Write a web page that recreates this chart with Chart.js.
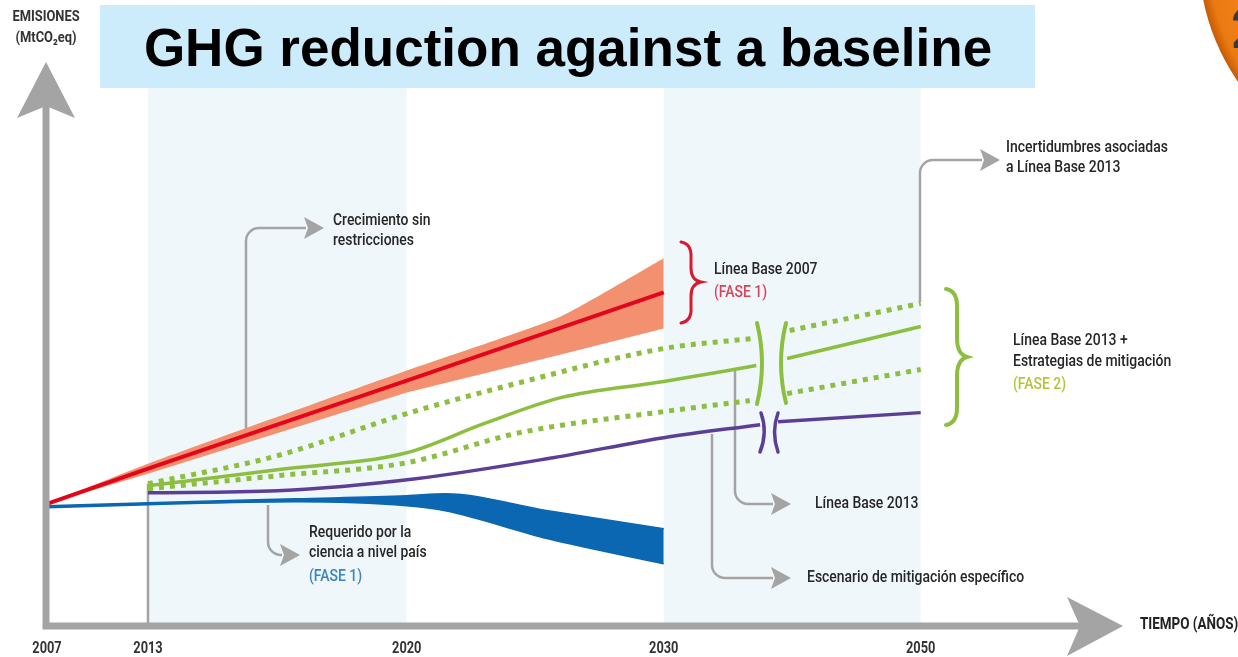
<!DOCTYPE html>
<html><head><meta charset="utf-8">
<script src="https://cdn.jsdelivr.net/npm/chart.js@4.4.1/dist/chart.umd.min.js"></script>
<style>html,body{margin:0;padding:0;background:#fff;overflow:hidden}canvas{display:block}</style>
</head><body>
<canvas id="c" width="1238" height="657"></canvas>
<script>
// ---- schematic time axis (non-uniform spacing, as in the original figure) ----
const tickYears  = [2007, 2013, 2020, 2030, 2050];
const tickLabels = ['2007', '2013', '2020', '2030', '2050'];
const tickSlots  = [0, 0.393, 1.4, 2.4, 3.4];

// ---- Línea Base 2007 (red) ----
const redYears   = [2007, 2013, 2020, 2030];
const redCenter  = [24.4, 31.4, 49.0, 66.6];
const redBandYears = [2007, 2013, 2020, 2026, 2030];
const redUpper   = [24.4, 32.4, 51.0, 61.8, 73.4];
const redLower   = [24.4, 30.4, 46.6, 54.2, 59.4];

// ---- Requerido por la ciencia (blue band) ----
const blueYears  = [2007, 2013, 2017, 2020, 2021.5, 2025.5, 2030];
const blueTop    = [24.0, 24.6, 25.4, 26.0, 26.4, 23.0, 19.4];
const blueBottom = [23.6, 24.2, 24.8, 24.0, 23.0, 17.4, 12.4];

// ---- Línea Base 2013 + estrategias (green) ----
const greenYears  = [2013, 2016.5, 2020, 2023, 2026, 2030, 2037.2, 2038.4, 2039.6, 2044.5, 2050];
const greenSolid  = [28.0, 31.2, 34.6, 40.4, 45.6, 48.8, 52.0, null, 53.4, 56.4, 59.8];
const upperYears  = [2013, 2016.5, 2020, 2024.4, 2030, 2036.9, 2038.3, 2039.8, 2050];
const greenUpper  = [28.4, 34.0, 42.4, 48.6, 55.4, 57.4, null, 59.0, 64.4];
const lowerYears  = [2013, 2016.5, 2020, 2024.4, 2030, 2036.7, 2038.2, 2039.6, 2050];
const greenLower  = [27.4, 30.0, 32.6, 38.6, 42.8, 45.0, null, 46.4, 51.2];

// ---- Escenario de mitigación específico (purple) ----
const purpleYears = [2013, 2016.5, 2020.35, 2025.7, 2030, 2037.5, 2038.2, 2038.9, 2050];
const purpleVals  = [26.6, 27.0, 29.4, 33.6, 37.6, 40.2, null, 40.8, 42.6];

function slot(year) {
  for (let i = 0; i < tickYears.length - 1; i++) {
    if (year <= tickYears[i + 1] || i === tickYears.length - 2) {
      const t = (year - tickYears[i]) / (tickYears[i + 1] - tickYears[i]);
      return tickSlots[i] + t * (tickSlots[i + 1] - tickSlots[i]);
    }
  }
}
const pts = (years, vals) => years.map((y, i) => ({ x: slot(y), y: vals[i] }));

const RED = '#e3061b', SALMON = '#f2906f', BLUE = '#0b67b2', GREEN = '#8cbf40', PURPLE = '#5b3f96', GRAY = '#a4a4a4';
const FONT = 'Roboto, "DejaVu Sans", sans-serif';

function txt(ctx, s, x, y, o = {}) {
  ctx.save();
  ctx.font = (o.bold ? 'bold ' : '500 ') + (o.size || 17) + 'px ' + FONT;
  ctx.fillStyle = o.color || '#262626';
  ctx.textBaseline = 'middle';
  ctx.textAlign = o.align || 'left';
  ctx.translate(x, y);
  ctx.scale(o.sx || 0.82, 1);
  ctx.fillText(s, 0, 0);
  ctx.restore();
}
function head(ctx, tx, ty, len, hw) {
  ctx.beginPath();
  ctx.moveTo(tx, ty); ctx.lineTo(tx - len, ty - hw); ctx.lineTo(tx - len * 0.8, ty); ctx.lineTo(tx - len, ty + hw);
  ctx.closePath(); ctx.fill();
}
function callout(ctx, x0, y0, xc, yc, x1, y1) {
  ctx.beginPath();
  ctx.moveTo(x0, y0);
  ctx.arcTo(xc, yc, x1, y1, 13);
  ctx.lineTo(x1, y1);
  ctx.stroke();
  head(ctx, x1 + 18, y1, 20, 11);
}

const deco = {
  id: 'deco',
  beforeDraw(chart) {
    const ctx = chart.ctx, xs = chart.scales.x, ys = chart.scales.y;
    const X = yr => xs.getPixelForValue(slot(yr));
    ctx.save();
    ctx.fillStyle = '#fff'; ctx.fillRect(0, 0, chart.width, chart.height);
    // shaded periods
    ctx.fillStyle = '#f0f7fb';
    ctx.fillRect(X(2013), 88, X(2020) - X(2013), ys.bottom - 88);
    ctx.fillRect(X(2030), 88, X(2050) - X(2030), ys.bottom - 88);
    // title box
    ctx.fillStyle = '#ccecfb';
    ctx.fillRect(100, 5, 935, 83);
    ctx.fillStyle = '#000';
    ctx.font = 'bold 53px "Liberation Sans", Arial, sans-serif';
    ctx.textAlign = 'center'; ctx.textBaseline = 'alphabetic';
    ctx.fillText('GHG reduction against a baseline', 568, 66);
    // orange badge (cropped)
    const g = ctx.createRadialGradient(1418, -43, 150, 1418, -43, 219);
    g.addColorStop(0, '#f28a1c'); g.addColorStop(0.85, '#ec7a12'); g.addColorStop(1, '#c65a06');
    ctx.fillStyle = g;
    ctx.beginPath(); ctx.arc(1418, -43, 219, 0, Math.PI * 2); ctx.fill();
    ctx.fillStyle = '#3a3a3a';
    ctx.font = 'bold 56px ' + FONT; ctx.textAlign = 'left';
    ctx.fillText('2', 1231, 48);
    ctx.restore();
  },
  beforeDatasetsDraw(chart) {
    const ctx = chart.ctx, xs = chart.scales.x, ys = chart.scales.y;
    const X = yr => xs.getPixelForValue(slot(yr));
    ctx.save();
    ctx.strokeStyle = GRAY; ctx.fillStyle = GRAY; ctx.lineWidth = 2.5;
    // 2013 start line
    ctx.beginPath(); ctx.moveTo(X(2013), ys.getPixelForValue(28.4)); ctx.lineTo(X(2013), ys.bottom); ctx.stroke();
    // callouts
    callout(ctx, 246, 432, 246, 228, 306, 228);
    callout(ctx, 268, 505, 268, 555, 282, 555);
    callout(ctx, 920, 302, 920, 160, 982, 160);
    callout(ctx, 735, 368, 735, 504, 773, 504);
    callout(ctx, 712, 434, 712, 578, 773, 578);
    ctx.restore();
  },
  afterDatasetsDraw(chart) {
    const ctx = chart.ctx, xs = chart.scales.x;
    const X = yr => xs.getPixelForValue(slot(yr));
    ctx.save();
    // axes
    ctx.strokeStyle = GRAY; ctx.fillStyle = GRAY; ctx.lineWidth = 7;
    ctx.beginPath(); ctx.moveTo(46, 100); ctx.lineTo(46, 626); ctx.lineTo(1082, 626); ctx.stroke();
    ctx.beginPath(); ctx.moveTo(46, 62); ctx.lineTo(17, 118); ctx.lineTo(46, 106); ctx.lineTo(75, 118); ctx.closePath(); ctx.fill();
    ctx.beginPath(); ctx.moveTo(1123, 626); ctx.lineTo(1067, 597); ctx.lineTo(1080, 626); ctx.lineTo(1067, 656); ctx.closePath(); ctx.fill();
    // red brace
    ctx.lineCap = 'round';
    ctx.strokeStyle = '#d81a2e'; ctx.lineWidth = 3;
    ctx.beginPath();
    ctx.moveTo(681, 242); ctx.quadraticCurveTo(692, 244, 691, 258);
    ctx.lineTo(691, 268); ctx.quadraticCurveTo(691, 280, 701, 282);
    ctx.quadraticCurveTo(691, 284, 691, 296); ctx.lineTo(691, 307);
    ctx.quadraticCurveTo(692, 321, 681, 323); ctx.stroke();
    // green brace
    ctx.strokeStyle = GREEN; ctx.lineWidth = 4;
    ctx.beginPath();
    ctx.moveTo(946, 289); ctx.quadraticCurveTo(957, 291, 957, 306);
    ctx.lineTo(957, 338); ctx.quadraticCurveTo(957, 354, 967, 357);
    ctx.quadraticCurveTo(957, 360, 957, 376); ctx.lineTo(957, 408);
    ctx.quadraticCurveTo(957, 423, 946, 425); ctx.stroke();
    // axis breaks
    ctx.lineWidth = 4;
    ctx.beginPath(); ctx.moveTo(757, 323); ctx.quadraticCurveTo(767, 363, 757, 404); ctx.stroke();
    ctx.beginPath(); ctx.moveTo(786, 323); ctx.quadraticCurveTo(776, 363, 786, 403); ctx.stroke();
    ctx.strokeStyle = PURPLE; ctx.lineWidth = 3.5;
    ctx.beginPath(); ctx.moveTo(761, 413); ctx.quadraticCurveTo(768, 432, 760, 452); ctx.stroke();
    ctx.beginPath(); ctx.moveTo(778, 413); ctx.quadraticCurveTo(771, 432, 778, 452); ctx.stroke();
    // tick labels
    tickYears.forEach((yr, i) => txt(ctx, tickLabels[i], X(yr), 649, { bold: true, size: 16, align: 'center', sx: 0.8, color: '#333' }));
    // axis titles
    txt(ctx, 'TIEMPO (AÑOS)', 1140, 625, { bold: true, size: 16, sx: 0.84, color: '#222' });
    txt(ctx, 'EMISIONES', 46, 17, { bold: true, size: 15, align: 'center', sx: 0.86, color: '#333' });
    txt(ctx, '(MtCO₂eq)', 46, 38, { bold: true, size: 15, align: 'center', sx: 0.86, color: '#333' });
    // annotations
    txt(ctx, 'Crecimiento sin', 333, 221);
    txt(ctx, 'restricciones', 333, 241);
    txt(ctx, 'Línea Base 2007', 714, 270);
    txt(ctx, '(FASE 1)', 714, 293, { color: '#d9435a' });
    txt(ctx, 'Incertidumbres asociadas', 1006, 148);
    txt(ctx, 'a Línea Base 2013', 1006, 168);
    txt(ctx, 'Línea Base 2013 +', 1013, 341);
    txt(ctx, 'Estrategias de mitigación', 1013, 362);
    txt(ctx, '(FASE 2)', 1013, 385, { color: '#b5c23e' });
    txt(ctx, 'Línea Base 2013', 815, 504);
    txt(ctx, 'Escenario de mitigación específico', 807, 578);
    txt(ctx, 'Requerido por la', 309, 533);
    txt(ctx, 'ciencia a nivel país', 309, 553);
    txt(ctx, '(FASE 1)', 309, 577, { color: '#3a84c4' });
    ctx.restore();
  }
};

const line = (label, data, color, width, extra) => Object.assign({
  label, data, borderColor: color, borderWidth: width, pointRadius: 0, fill: false,
  cubicInterpolationMode: 'monotone', spanGaps: false, order: 1
}, extra || {});

new Chart(document.getElementById('c'), {
  type: 'line',
  data: {
    datasets: [
      line('Línea Base 2007 (máx)', pts(redBandYears, redUpper), SALMON, 0, { fill: '+1', backgroundColor: SALMON, tension: 0.15, cubicInterpolationMode: 'default', order: 6 }),
      line('Línea Base 2007 (mín)', pts(redBandYears, redLower), SALMON, 0, { tension: 0, cubicInterpolationMode: 'default', order: 6 }),
      line('Línea Base 2007', pts(redYears, redCenter), RED, 4, { tension: 0, cubicInterpolationMode: 'default', order: 1 }),
      line('Requerido por la ciencia (sup)', pts(blueYears, blueTop), BLUE, 1.5, { fill: '+1', backgroundColor: BLUE, order: 5 }),
      line('Requerido por la ciencia (inf)', pts(blueYears, blueBottom), BLUE, 1.5, { order: 5 }),
      line('Incertidumbre superior', pts(upperYears, greenUpper), GREEN, 5, { borderDash: [5, 6], order: 3 }),
      line('Línea Base 2013', pts(greenYears, greenSolid), GREEN, 3.5, { order: 2 }),
      line('Incertidumbre inferior', pts(lowerYears, greenLower), GREEN, 5, { borderDash: [5, 6], order: 3 }),
      line('Escenario de mitigación específico', pts(purpleYears, purpleVals), PURPLE, 3.5, { order: 2 })
    ]
  },
  options: {
    responsive: false,
    animation: false,
    devicePixelRatio: 1,
    layout: { padding: { left: 47, right: 113, top: 60, bottom: 31 } },
    scales: {
      x: { type: 'linear', min: 0, max: 4.195, display: false },
      y: { min: 0, max: 113, display: false }
    },
    plugins: { legend: { display: false }, tooltip: { enabled: false } },
    elements: { point: { radius: 0 } }
  },
  plugins: [deco]
});
</script>
</body></html>
